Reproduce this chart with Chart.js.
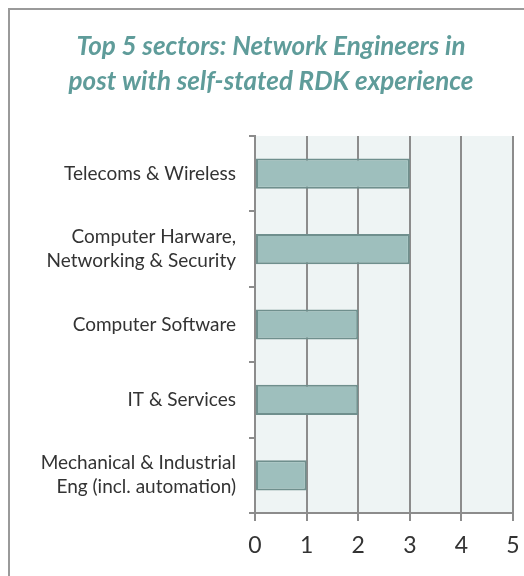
<!DOCTYPE html>
<html>
<head>
<meta charset="utf-8">
<script src="https://cdn.jsdelivr.net/npm/chart.js@4.4.0/dist/chart.umd.min.js"></script>
<style>
  html, body { margin: 0; padding: 0; background: #fff; overflow: hidden; }
  #box {
    position: absolute; left: 8px; top: 8px;
    width: 540px; height: 590px;
    border-left: 2px solid #9a9a9a; border-top: 2px solid #9a9a9a;
  }
  #chart { position: absolute; left: 29px; top: 10px; display: block; }
</style>
</head>
<body>
<div id="box"></div>
<canvas id="chart" width="495" height="570"></canvas>
<script>
// 数据
const sectors = [
    ['Telecoms & Wireless'],
    ['Computer Harware,', 'Networking & Security'],
    ['Computer Software'],
    ['IT & Services'],
    ['Mechanical & Industrial', 'Eng (incl. automation)']
];
const engineers = [3, 3, 2, 2, 1];
const titleLines = ['Top 5 sectors: Network Engineers in', 'post with self-stated RDK experience'];

// 绘图区背景
const plotBackground = {
    id: 'plotBackground',
    beforeDraw(chart) {
        const { ctx, chartArea: a } = chart;
        ctx.save();
        ctx.fillStyle = '#eef4f4';
        ctx.fillRect(a.left, a.top, a.right - a.left, a.bottom - a.top);
        ctx.restore();
    }
};

const ctx = document.getElementById('chart');
new Chart(ctx, {
    type: 'bar',
    data: {
        labels: sectors,
        datasets: [{
            data: engineers,
            backgroundColor: '#9ebfbd',
            borderColor: '#6f8f8d',
            borderWidth: 2,
            borderSkipped: false,
            barPercentage: 0.4,
            categoryPercentage: 1
        }]
    },
    options: {
        indexAxis: 'y',
        responsive: false,
        animation: false,
        layout: { padding: { top: 0, right: 11, bottom: 0, left: 0 } },
        scales: {
            x: {
                min: 0,
                max: 5,
                ticks: { stepSize: 1, color: '#333', padding: 11, font: { family: 'Lato', size: 23 } },
                grid: { color: '#8c8c8c', lineWidth: 2, tickLength: 8 },
                border: { color: '#8c8c8c', width: 2 },
                afterFit(scale) {
                    scale.height = 67;
                    scale.paddingLeft = 0;
                    scale.paddingRight = 0;
                }
            },
            y: {
                ticks: { color: '#333', padding: 13, font: { family: 'Lato', size: 19, lineHeight: 1.27 } },
                grid: { offset: true, drawOnChartArea: false, color: '#8c8c8c', lineWidth: 2, tickLength: 6 },
                border: { color: '#8c8c8c', width: 2 },
                afterFit(scale) { scale.width = 226; }
            }
        },
        plugins: {
            legend: { display: false },
            tooltip: { enabled: false },
            title: {
                display: true,
                text: titleLines,
                color: '#5f9c9a',
                font: { family: 'Lato', size: 26, weight: 'bold', style: 'italic', lineHeight: 1.346 },
                padding: { top: 19, bottom: 37 }
            }
        }
    },
    plugins: [plotBackground]
});
</script>
</body>
</html>
